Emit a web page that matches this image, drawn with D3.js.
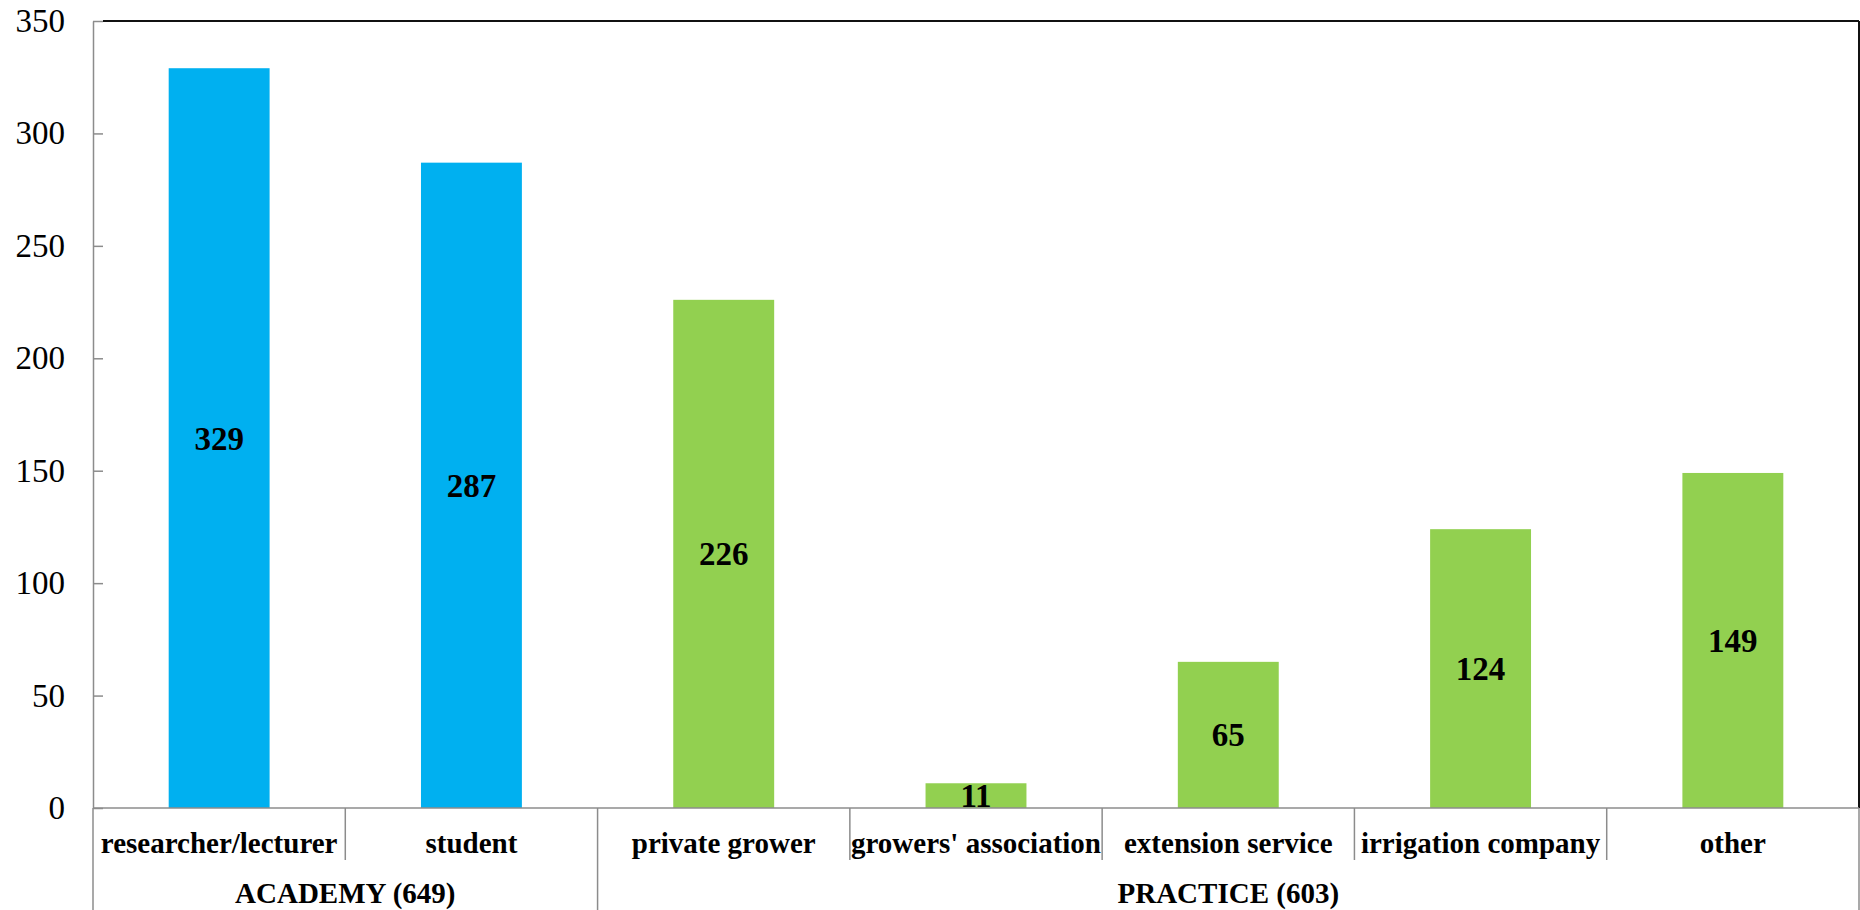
<!DOCTYPE html>
<html>
<head>
<meta charset="utf-8">
<script src="https://cdn.jsdelivr.net/npm/d3@7/dist/d3.min.js"></script>
<style>
  html, body { margin: 0; padding: 0; background: #ffffff; }
  svg { display: block; }
  text { font-family: "Liberation Serif", "Times New Roman", serif; }
</style>
</head>
<body>
<svg id="chart" width="1860" height="910"></svg>
<script>
// Respondents by occupation, grouped into academy and practice
const categories = ["researcher/lecturer", "student", "private grower", "growers' association", "extension service", "irrigation company", "other"];
const values = [329, 287, 226, 11, 65, 124, 149];
const categoryGroup = ["ACADEMY", "ACADEMY", "PRACTICE", "PRACTICE", "PRACTICE", "PRACTICE", "PRACTICE"];
const groupNames = ["ACADEMY", "PRACTICE"];
const groupLabels = ["ACADEMY (649)", "PRACTICE (603)"];
const groupColors = ["#00B0F0", "#92D050"];
const yTicks = [0, 50, 100, 150, 200, 250, 300, 350];

const W = 1860, H = 910;
const plotLeft = 93, plotRight = 1859, plotTop = 21, plotBase = 808;

const svg = d3.select("#chart");

const x = d3.scaleBand().domain(categories).range([plotLeft, plotRight]).padding(0);
const y = d3.scaleLinear().domain([0, 350]).range([plotBase, plotTop]);
const color = d3.scaleOrdinal().domain(groupNames).range(groupColors);

const axisGray = "#8c8c8c";

// Plot frame (top and right edges)
svg.append("line")
  .attr("x1", plotLeft + 10).attr("x2", plotRight).attr("y1", plotTop).attr("y2", plotTop)
  .attr("stroke", "#111").attr("stroke-width", 2);
svg.append("line")
  .attr("x1", plotRight).attr("x2", plotRight).attr("y1", plotTop).attr("y2", plotBase)
  .attr("stroke", "#111").attr("stroke-width", 2);

// Bars
const barW = x.bandwidth() * 0.4;
svg.append("g").selectAll("rect")
  .data(categories)
  .join("rect")
  .attr("x", (d) => x(d) + (x.bandwidth() - barW) / 2)
  .attr("y", (d, i) => y(values[i]))
  .attr("width", barW)
  .attr("height", (d, i) => plotBase - y(values[i]))
  .attr("fill", (d, i) => color(categoryGroup[i]));

// Value labels, centred in each bar
svg.append("g").selectAll("text")
  .data(categories)
  .join("text")
  .attr("x", (d) => x(d) + x.bandwidth() / 2)
  .attr("y", (d, i) => (y(values[i]) + plotBase) / 2)
  .attr("dy", "0.35em")
  .attr("text-anchor", "middle")
  .attr("font-size", 33)
  .attr("font-weight", "bold")
  .attr("fill", "#000")
  .text((d, i) => values[i]);

// Y axis
const yAxis = d3.axisLeft(y).tickValues(yTicks).tickSizeInner(-10).tickSizeOuter(0).tickPadding(28);
const gy = svg.append("g").attr("transform", `translate(${plotLeft},0)`).call(yAxis);
gy.select(".domain").attr("stroke", axisGray).attr("stroke-width", 1.5);
gy.selectAll(".tick line").attr("stroke", axisGray).attr("stroke-width", 1.5);
gy.selectAll(".tick text")
  .attr("font-size", 33)
  .attr("font-family", "Liberation Serif, Times New Roman, serif")
  .attr("fill", "#000");

// Category axis baseline
svg.append("line")
  .attr("x1", plotLeft).attr("x2", plotRight).attr("y1", plotBase).attr("y2", plotBase)
  .attr("stroke", axisGray).attr("stroke-width", 1.5);

// Separators between categories / groups
const boundaries = categories.map((d, i) => ({
  x: x(d),
  groupEdge: i === 0 || categoryGroup[i] !== categoryGroup[i - 1]
}));
boundaries.push({ x: plotRight, groupEdge: true });
svg.append("g").selectAll("line")
  .data(boundaries)
  .join("line")
  .attr("x1", (d) => d.x).attr("x2", (d) => d.x)
  .attr("y1", plotBase)
  .attr("y2", (d) => d.groupEdge ? H : 860)
  .attr("stroke", axisGray).attr("stroke-width", 1.5);

// Category labels
svg.append("g").selectAll("text")
  .data(categories)
  .join("text")
  .attr("x", (d) => x(d) + x.bandwidth() / 2)
  .attr("y", 853)
  .attr("text-anchor", "middle")
  .attr("font-size", 29)
  .attr("font-weight", "bold")
  .attr("fill", "#000")
  .text((d) => d);

// Group labels
svg.append("g").selectAll("text")
  .data(groupNames)
  .join("text")
  .attr("x", (g) => {
    const members = categories.filter((c, i) => categoryGroup[i] === g);
    const x0 = x(members[0]);
    const x1 = x(members[members.length - 1]) + x.bandwidth();
    return (x0 + x1) / 2;
  })
  .attr("y", 903)
  .attr("text-anchor", "middle")
  .attr("font-size", 29)
  .attr("font-weight", "bold")
  .attr("fill", "#000")
  .text((g, i) => groupLabels[i]);
</script>
</body>
</html>
